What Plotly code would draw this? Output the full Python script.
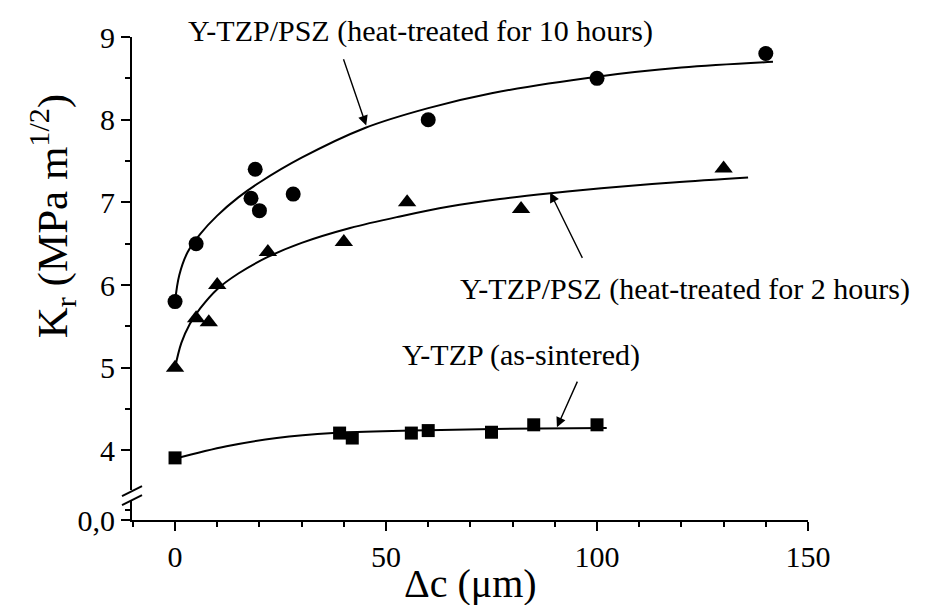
import plotly.graph_objects as go

# ---- data ----
# Y-TZP/PSZ heat-treated 10 h (circles)
x_10h = [0, 5, 18, 19, 20, 28, 60, 100, 140]
y_10h = [5.8, 6.5, 7.05, 7.4, 6.9, 7.1, 8.0, 8.5, 8.8]
# fitted curve
fx_10h = [0, 1, 3, 6, 10, 15, 20, 30, 45, 60, 75, 100, 120, 141.7]
fy_10h = [5.8, 6.12, 6.4, 6.62, 6.84, 7.06, 7.24, 7.54, 7.9, 8.14, 8.32, 8.52, 8.63, 8.7]

# Y-TZP/PSZ heat-treated 2 h (triangles)
x_2h = [0, 5, 8, 10, 22, 40, 55, 82, 130]
y_2h = [5.0, 5.6, 5.55, 6.0, 6.4, 6.52, 7.0, 6.92, 7.41]
fx_2h = [0, 1.5, 3.5, 6, 10, 15, 22, 30, 41.5, 53.3, 65, 77, 89, 101, 118, 135.8]
fy_2h = [5.0, 5.3, 5.53, 5.72, 5.95, 6.14, 6.34, 6.51, 6.69, 6.83, 6.95, 7.04, 7.11, 7.17, 7.24, 7.3]

# Y-TZP as-sintered (squares)
x_as = [0, 39, 42, 56, 60, 75, 85, 100]
y_as = [3.91, 4.21, 4.15, 4.21, 4.24, 4.22, 4.31, 4.31]
fx_as = [0, 12.2, 24.1, 37.5, 55.7, 75.4, 102.3]
fy_as = [3.9, 4.05, 4.15, 4.21, 4.24, 4.26, 4.27]

x_ticks = [0, 50, 100, 150]
y_ticks = [4, 5, 6, 7, 8, 9]
label_10h = "Y-TZP/PSZ (heat-treated for 10 hours)"
label_2h = "Y-TZP/PSZ (heat-treated for 2 hours)"
label_as = "Y-TZP (as-sintered)"

FONT = "Liberation Serif"
W, H = 925, 605
# the page body adds an 8px offset, so the figure margins are shifted by 8px
L, T = 124, 27
PW, PH = 676, 485
R, B = W - L - PW, H - T - PH
REF_L, REF_BOTTOM = 132, 520  # plot-area left / bottom in the reference picture


def px(xr):
    return (xr - REF_L) / PW


def py(yr):
    return (REF_BOTTOM - yr) / PH


fig = go.Figure()
# dummy trace so the lower (0,0) axis segment exists
fig.add_trace(go.Scatter(x=[], y=[], xaxis="x", yaxis="y", showlegend=False))

line_style = dict(color="black", width=2, shape="spline", smoothing=1.0)
for fx, fy in [(fx_10h, fy_10h), (fx_2h, fy_2h), (fx_as, fy_as)]:
    fig.add_trace(go.Scatter(x=fx, y=fy, mode="lines", line=line_style,
                             xaxis="x", yaxis="y2", showlegend=False,
                             hoverinfo="skip"))

fig.add_trace(go.Scatter(x=x_10h, y=y_10h, mode="markers", yaxis="y2",
                         marker=dict(symbol="circle", size=15, color="black"),
                         showlegend=False, name=label_10h))
fig.add_trace(go.Scatter(x=x_2h, y=y_2h, mode="markers", yaxis="y2",
                         marker=dict(symbol="triangle-up", size=16, color="black"),
                         showlegend=False, name=label_2h))
fig.add_trace(go.Scatter(x=x_as, y=y_as, mode="markers", yaxis="y2",
                         marker=dict(symbol="square", size=13, color="black"),
                         showlegend=False, name=label_as))

tickfont = dict(family=FONT, size=30, color="black")
common = dict(showline=True, linecolor="black", linewidth=2, ticks="outside",
              tickcolor="black", tickwidth=2, ticklen=9, showgrid=False,
              zeroline=False, tickfont=tickfont)

fig.update_layout(
    width=W, height=H,
    margin=dict(l=L, r=R, t=T, b=B),
    paper_bgcolor="white", plot_bgcolor="white",
    showlegend=False,
    xaxis=dict(range=[-10.2, 150], tickvals=x_ticks, anchor="y",
               minor=dict(dtick=10, tick0=0, ticks="outside", ticklen=5,
                          tickwidth=2, tickcolor="black"),
               **common),
    yaxis=dict(domain=[0, 20 / PH], range=[0, 0.24], tickvals=[0],
               ticktext=["0,0"], anchor="x",
               minor=dict(tickvals=[0.12], ticks="outside", ticklen=5,
                          tickwidth=2, tickcolor="black"),
               **common),
    yaxis2=dict(domain=[30 / PH, 1], range=[3.52, 9], tickvals=y_ticks,
                anchor="x",
                minor=dict(dtick=0.5, tick0=0, ticks="outside", ticklen=5,
                           tickwidth=2, tickcolor="black"),
                **common),
)

# axis break marks
for yc in (491, 500):
    fig.add_shape(type="line", xref="paper", yref="paper",
                  x0=px(122), y0=py(yc + 5), x1=px(142), y1=py(yc - 5),
                  line=dict(color="black", width=2))

# axis titles
fig.add_annotation(text="K<sub>r</sub> (MPa m<sup>1/2</sup>)", textangle=-90,
                   xref="paper", yref="paper", x=px(52), y=py(215),
                   xanchor="center", yanchor="middle", showarrow=False,
                   font=dict(family=FONT, size=43, color="black"))
fig.add_annotation(text="Δc (μm)", xref="paper", yref="paper",
                   x=px(470), y=py(584), xanchor="center", yanchor="middle",
                   showarrow=False, font=dict(family=FONT, size=40, color="black"))

# curve labels
lab_font = dict(family=FONT, size=30, color="black")
fig.add_annotation(text=label_10h, xref="paper", yref="paper", x=px(420), y=py(29),
                   xanchor="center", yanchor="middle", showarrow=False, font=lab_font)
fig.add_annotation(text=label_2h, xref="paper", yref="paper", x=px(685), y=py(288),
                   xanchor="center", yanchor="middle", showarrow=False, font=lab_font)
fig.add_annotation(text=label_as, xref="paper", yref="paper", x=px(521), y=py(354),
                   xanchor="center", yanchor="middle", showarrow=False, font=lab_font)

# arrows (head on curve, tail near label)
arrows = [((45.3, 7.93), (39.8, 8.75)),
          ((88.9, 7.12), (96.7, 6.31)),
          ((90.5, 4.28), (95.5, 4.85))]
for (hx, hy), (tx, ty) in arrows:
    fig.add_annotation(x=hx, y=hy, ax=tx, ay=ty, xref="x", yref="y2",
                       axref="x", ayref="y2", text="", showarrow=True,
                       arrowhead=2, arrowsize=1.4, arrowwidth=1.4,
                       arrowcolor="black")

fig.write_html("out.html")
